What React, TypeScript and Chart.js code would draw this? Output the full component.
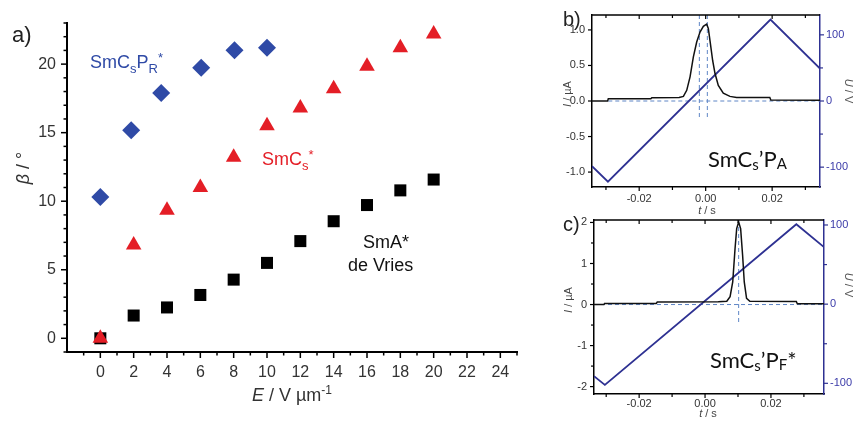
import { useEffect, useRef } from 'react';
import { Chart, registerables } from 'chart.js';
Chart.register(...registerables);

// ---------- Panel a data ----------
const eSmCsPR = [0, 1.85, 3.65, 6.05, 8.05, 10];
const betaSmCsPR = [10.31, 15.18, 17.9, 19.73, 21.02, 21.19];
const eSmCs = [0, 2, 4, 6, 8, 10, 12, 14, 16, 18, 20];
const betaSmCs = [0.0, 6.8, 9.34, 11.0, 13.2, 15.5, 16.8, 18.2, 19.85, 21.2, 22.2];
const eSmA = [0, 2, 4, 6, 8, 10, 12, 14, 16, 18, 20];
const betaSmA = [0.0, 1.66, 2.25, 3.16, 4.28, 5.5, 7.09, 8.54, 9.72, 10.79, 11.58];
const aXLabels = [0, 2, 4, 6, 8, 10, 12, 14, 16, 18, 20, 22, 24];
const aXMinor = [-1, 1, 3, 5, 7, 9, 11, 13, 15, 17, 19, 21, 23, 25];
const aYLabels = [0, 5, 10, 15, 20];
const aYMinor = [-1, 1, 2, 3, 4, 6, 7, 8, 9, 11, 12, 13, 14, 16, 17, 18, 19, 21, 22, 23];

// ---------- Panel b data ----------
const bTime = [-0.0342, -0.0295, -0.0293, -0.0165, -0.0162, -0.008, -0.0067, -0.0057, -0.0047, -0.0037, -0.0027, -0.0017, -0.0007, 0.0003, 0.0008, 0.0013, 0.0021, 0.0028, 0.0038, 0.0053, 0.0073, 0.0093, 0.0193, 0.0196, 0.0344];
const bCurrent = [0.0, 0.0, 0.03, 0.03, 0.045, 0.05, 0.065, 0.15, 0.34, 0.62, 0.83, 0.97, 1.05, 1.08, 1.02, 0.85, 0.57, 0.39, 0.22, 0.11, 0.065, 0.05, 0.05, 0.015, 0.01];
const bVoltTime = [-0.0342, -0.0294, 0.0195, 0.0344];
const bVolt = [-98.5, -122, 123, 49];
const bGuideTimes = [-0.0019, 0.0005];
const bGuideBottom = -0.25;
const bZeroStart = -0.0293;
const bXLabels = [-0.02, 0, 0.02];
const bXMinor = [-0.03, -0.01, 0.01, 0.03];
const bYLabels = [-1, -0.5, 0, 0.5, 1];
const bY2Labels = [-100, 0, 100];
const bY2Minor = [-50, 50];

// ---------- Panel c data ----------
const cTime = [-0.0337, -0.0307, -0.0305, -0.0148, -0.0145, 0.004, 0.0066, 0.0076, 0.0084, 0.0091, 0.0096, 0.0102, 0.0108, 0.0114, 0.0119, 0.0126, 0.0136, 0.0277, 0.028, 0.0361];
const cCurrent = [0.0, 0.0, 0.025, 0.025, 0.06, 0.07, 0.08, 0.19, 0.55, 1.36, 1.85, 2.01, 1.85, 1.2, 0.55, 0.15, 0.08, 0.075, 0.02, 0.02];
const cVoltTime = [-0.0337, -0.0304, 0.0277, 0.0361];
const cVolt = [-91, -102, 101, 72];
const cGuideTime = 0.0102;
const cGuideBottom = -0.46;
const cXLabels = [-0.02, 0, 0.02];
const cXMinor = [-0.03, -0.01, 0.01, 0.03];
const cYLabels = [-2, -1, 0, 1, 2];
const cYMinor = [-1.5, -0.5, 0.5, 1.5];
const cY2Labels = [-100, 0, 100];
const cY2Minor = [-50, 50];

const ARIAL = '"Liberation Sans", Arial, sans-serif';
const CAL = 'Lato, "Open Sans", sans-serif';
const BLUE_PTS = '#2f4aa6';
const RED = '#e41e26';
const VBLUE = '#2e3192';
const GUIDE = '#5f86c6';

type Part = { t: string; s: number; dy?: number; it?: boolean };
type TextItem = { x: number; y: number; color: string; parts: Part[]; rot?: number; align?: 'left' | 'center'; fam?: string };
type TickSet = { scale: string; side: 'left' | 'right' | 'top' | 'bottom'; major: number[]; minor: number[]; out: boolean; color: string; majorLen: number; minorLen: number; width: number };

function drawRich(ctx: CanvasRenderingContext2D, item: TextItem) {
  ctx.save();
  ctx.fillStyle = item.color;
  ctx.textBaseline = 'alphabetic';
  ctx.textAlign = 'left';
  const fam = item.fam ?? ARIAL;
  const fontOf = (p: Part) => `${p.it ? 'italic ' : ''}${p.s}px ${fam}`;
  let w = 0;
  for (const p of item.parts) { ctx.font = fontOf(p); w += ctx.measureText(p.t).width; }
  ctx.translate(item.x, item.y);
  if (item.rot) ctx.rotate(item.rot);
  let x = item.align === 'center' ? -w / 2 : 0;
  for (const p of item.parts) {
    ctx.font = fontOf(p);
    ctx.fillText(p.t, x, p.dy ?? 0);
    x += ctx.measureText(p.t).width;
  }
  ctx.restore();
}

function makePlugin(ticks: TickSet[], texts: TextItem[], topFrame: boolean) {
  return {
    id: 'decor',
    afterDraw(chart: any) {
      const { ctx, chartArea } = chart;
      ctx.save();
      if (topFrame) {
        ctx.strokeStyle = '#000';
        ctx.lineWidth = 1.5;
        ctx.beginPath();
        ctx.moveTo(chartArea.left, chartArea.top);
        ctx.lineTo(chartArea.right, chartArea.top);
        ctx.stroke();
      }
      for (const s of ticks) {
        const sc = chart.scales[s.scale];
        ctx.strokeStyle = s.color;
        ctx.lineWidth = s.width;
        const draw = (v: number, len: number) => {
          const p = sc.getPixelForValue(v);
          const d = s.out ? len : -len;
          ctx.beginPath();
          if (s.side === 'left') { ctx.moveTo(chartArea.left, p); ctx.lineTo(chartArea.left - d, p); }
          else if (s.side === 'right') { ctx.moveTo(chartArea.right, p); ctx.lineTo(chartArea.right + d, p); }
          else if (s.side === 'bottom') { ctx.moveTo(p, chartArea.bottom); ctx.lineTo(p, chartArea.bottom + d); }
          else { ctx.moveTo(p, chartArea.top); ctx.lineTo(p, chartArea.top - d); }
          ctx.stroke();
        };
        s.major.forEach((v) => draw(v, s.majorLen));
        s.minor.forEach((v) => draw(v, s.minorLen));
      }
      ctx.restore();
      for (const t of texts) drawRich(ctx, t);
    },
  };
}

const pts = (xs: number[], ys: number[]) => xs.map((x, i) => ({ x, y: ys[i] }));

function fixedTicks(values: number[]) {
  return (scale: any) => { scale.ticks = values.map((v) => ({ value: v })); };
}

function useChart(ref: React.RefObject<HTMLCanvasElement | null>, build: () => any) {
  useEffect(() => {
    if (!ref.current) return;
    const chart = new Chart(ref.current, build());
    return () => chart.destroy();
  }, []);
}

function PanelA() {
  const ref = useRef<HTMLCanvasElement>(null);
  useChart(ref, () => {
    const texts: TextItem[] = [
      { x: 12, y: 42, color: '#222', parts: [{ t: 'a)', s: 22 }] },
      { x: 90, y: 68, color: BLUE_PTS, parts: [{ t: 'SmC', s: 18 }, { t: 's', s: 13, dy: 5 }, { t: 'P', s: 18 }, { t: 'R', s: 13, dy: 5 }, { t: '*', s: 13, dy: -6 }] },
      { x: 262, y: 165, color: RED, parts: [{ t: 'SmC', s: 18 }, { t: 's', s: 13, dy: 5 }, { t: '*', s: 13, dy: -6 }] },
      { x: 363, y: 248, color: '#111', parts: [{ t: 'SmA*', s: 18 }] },
      { x: 348, y: 271, color: '#111', parts: [{ t: 'de Vries', s: 18 }] },
      { x: 29, y: 168, rot: -Math.PI / 2, align: 'center', color: '#333', parts: [{ t: 'β', s: 18, it: true }, { t: ' / °', s: 18 }] },
      { x: 292, y: 401, align: 'center', color: '#333', parts: [{ t: 'E', s: 18, it: true }, { t: ' / V µm', s: 18 }, { t: '-1', s: 12, dy: -7 }] },
    ];
    const ticks: TickSet[] = [
      { scale: 'x', side: 'bottom', major: aXLabels, minor: aXMinor, out: true, color: '#000', majorLen: 6, minorLen: 3.5, width: 1.5 },
      { scale: 'y', side: 'left', major: aYLabels, minor: aYMinor, out: true, color: '#000', majorLen: 6, minorLen: 3.5, width: 1.5 },
    ];
    return {
      type: 'scatter',
      data: {
        datasets: [
          { data: pts(eSmCsPR, betaSmCsPR), pointStyle: 'rectRot', radius: 9, backgroundColor: BLUE_PTS, borderColor: BLUE_PTS, borderWidth: 0 },
          { data: pts(eSmCs, betaSmCs), pointStyle: 'triangle', radius: 9, backgroundColor: RED, borderColor: RED, borderWidth: 0 },
          { data: pts(eSmA, betaSmA), pointStyle: 'rect', radius: 8.5, backgroundColor: '#000', borderColor: '#000', borderWidth: 0 },
        ],
      },
      options: {
        animation: false,
        responsive: false,
        devicePixelRatio: 1,
        layout: { padding: { left: 0, top: 23, right: 43, bottom: 0 } },
        plugins: { legend: { display: false }, tooltip: { enabled: false } },
        scales: {
          x: {
            type: 'linear', min: -2, max: 25,
            afterBuildTicks: fixedTicks(aXLabels),
            afterFit: (s: any) => { s.height = 69; },
            grid: { display: false, drawTicks: false },
            border: { display: true, color: '#000', width: 2 },
            ticks: { padding: 11, color: '#333', font: { family: ARIAL, size: 16 }, maxRotation: 0, autoSkip: false },
          },
          y: {
            type: 'linear', min: -1, max: 23,
            afterBuildTicks: fixedTicks(aYLabels),
            afterFit: (s: any) => { s.width = 67; },
            grid: { display: false, drawTicks: false },
            border: { display: true, color: '#000', width: 2 },
            ticks: { padding: 11, color: '#333', font: { family: ARIAL, size: 16 }, autoSkip: false },
          },
        },
      },
      plugins: [makePlugin(ticks, texts, false)],
    };
  });
  return <canvas ref={ref} width={560} height={421} style={{ position: 'absolute', left: 0, top: 0, width: 560, height: 421 }} />;
}

function traceOptions(opts: {
  xMin: number; xMax: number; yMin: number; yMax: number; y2Min: number; y2Max: number;
  padTop: number; leftW: number; rightW: number; bottomH: number; xPad: number;
  xLabels: number[]; yLabels: number[]; y2Labels: number[]; yDigits: number;
}) {
  return {
    animation: false,
    responsive: false,
    devicePixelRatio: 1,
    layout: { padding: { left: 0, top: opts.padTop, right: 0, bottom: 0 } },
    plugins: { legend: { display: false }, tooltip: { enabled: false } },
    scales: {
      x: {
        type: 'linear', min: opts.xMin, max: opts.xMax,
        afterBuildTicks: fixedTicks(opts.xLabels),
        afterFit: (s: any) => { s.height = opts.bottomH; },
        grid: { display: false, drawTicks: false },
        border: { display: true, color: '#000', width: 1.5 },
        ticks: { padding: opts.xPad, color: '#333', font: { family: ARIAL, size: 11 }, maxRotation: 0, autoSkip: false, callback: (v: any) => Number(v).toFixed(2) },
      },
      y: {
        type: 'linear', position: 'left', min: opts.yMin, max: opts.yMax,
        afterBuildTicks: fixedTicks(opts.yLabels),
        afterFit: (s: any) => { s.width = opts.leftW; },
        grid: { display: false, drawTicks: false },
        border: { display: true, color: '#000', width: 1.5 },
        ticks: { padding: 7, color: '#333', font: { family: ARIAL, size: 11 }, autoSkip: false, callback: (v: any) => Number(v).toFixed(opts.yDigits) },
      },
      y2: {
        type: 'linear', position: 'right', min: opts.y2Min, max: opts.y2Max,
        afterBuildTicks: fixedTicks(opts.y2Labels),
        afterFit: (s: any) => { s.width = opts.rightW; },
        grid: { display: false, drawTicks: false },
        border: { display: true, color: VBLUE, width: 1.5 },
        ticks: { padding: 6, color: '#3a3aa8', font: { family: ARIAL, size: 11 }, autoSkip: false, callback: (v: any) => String(v) },
      },
    },
  };
}

function PanelB() {
  const ref = useRef<HTMLCanvasElement>(null);
  useChart(ref, () => {
    const xMin = -0.0342, xMax = 0.0344, yMin = -1.21, yMax = 1.21;
    const texts: TextItem[] = [
      { x: 3, y: 26, color: '#222', parts: [{ t: 'b)', s: 20 }] },
      { x: 148, y: 167, color: '#111', fam: CAL, parts: [{ t: 'SmC', s: 22 }, { t: 's', s: 15, dy: 3 }, { t: '’P', s: 22 }, { t: 'A', s: 15, dy: 2 }] },
      { x: 11, y: 94, rot: -Math.PI / 2, align: 'center', color: '#444', parts: [{ t: 'I', s: 11, it: true }, { t: ' / µA', s: 11 }] },
      { x: 285, y: 91, rot: Math.PI / 2, align: 'center', color: '#555', parts: [{ t: 'U', s: 11, it: true }, { t: ' / V', s: 11 }] },
      { x: 147, y: 214, align: 'center', color: '#444', parts: [{ t: 't', s: 11, it: true }, { t: ' / s', s: 11 }] },
    ];
    const ticks: TickSet[] = [
      { scale: 'x', side: 'bottom', major: bXLabels, minor: bXMinor, out: true, color: '#000', majorLen: 4, minorLen: 3, width: 1.2 },
      { scale: 'x', side: 'top', major: bXLabels, minor: bXMinor, out: false, color: '#000', majorLen: 4, minorLen: 3, width: 1.2 },
      { scale: 'y', side: 'left', major: bYLabels, minor: [], out: true, color: '#000', majorLen: 4, minorLen: 3, width: 1.2 },
      { scale: 'y2', side: 'right', major: bY2Labels, minor: bY2Minor, out: true, color: VBLUE, majorLen: 4, minorLen: 3, width: 1.2 },
    ];
    const guide = (t: number) => ({ data: [{ x: t, y: yMax }, { x: t, y: bGuideBottom }], showLine: true, borderColor: GUIDE, borderWidth: 1, borderDash: [4, 3], pointRadius: 0, yAxisID: 'y' });
    return {
      type: 'scatter',
      data: {
        datasets: [
          { data: pts(bTime, bCurrent), showLine: true, borderColor: '#111', borderWidth: 1.5, pointRadius: 0, yAxisID: 'y' },
          { data: pts(bVoltTime, bVolt), showLine: true, borderColor: VBLUE, borderWidth: 1.8, pointRadius: 0, yAxisID: 'y2' },
          { data: [{ x: bZeroStart, y: 0 }, { x: xMax, y: 0 }], showLine: true, borderColor: GUIDE, borderWidth: 1, borderDash: [4, 3], pointRadius: 0, yAxisID: 'y' },
          ...bGuideTimes.map(guide),
        ],
      },
      options: traceOptions({ xMin, xMax, yMin, yMax, y2Min: -130, y2Max: 130, padTop: 15, leftW: 32, rightW: 33, bottomH: 218 - 187, xPad: 5, xLabels: bXLabels, yLabels: bYLabels, y2Labels: bY2Labels, yDigits: 1 }),
      plugins: [makePlugin(ticks, texts, true)],
    };
  });
  return <canvas ref={ref} width={293} height={218} style={{ position: 'absolute', left: 560, top: 0, width: 293, height: 218 }} />;
}

function PanelC() {
  const ref = useRef<HTMLCanvasElement>(null);
  useChart(ref, () => {
    const xMin = -0.0337, xMax = 0.0361, yMin = -2.18, yMax = 2.06;
    const texts: TextItem[] = [
      { x: 3, y: 26, color: '#222', parts: [{ t: 'c)', s: 20 }] },
      { x: 150, y: 163, color: '#111', fam: CAL, parts: [{ t: 'SmC', s: 22 }, { t: 's', s: 15, dy: 3 }, { t: '’P', s: 22 }, { t: 'F', s: 15, dy: 2 }, { t: '*', s: 22 }] },
      { x: 12, y: 95, rot: -Math.PI / 2, align: 'center', color: '#444', parts: [{ t: 'I', s: 11, it: true }, { t: ' / µA', s: 11 }] },
      { x: 285, y: 80, rot: Math.PI / 2, align: 'center', color: '#555', parts: [{ t: 'U', s: 11, it: true }, { t: ' / V', s: 11 }] },
      { x: 148, y: 212, align: 'center', color: '#444', parts: [{ t: 't', s: 11, it: true }, { t: ' / s', s: 11 }] },
    ];
    const ticks: TickSet[] = [
      { scale: 'x', side: 'bottom', major: cXLabels, minor: cXMinor, out: true, color: '#000', majorLen: 4, minorLen: 3, width: 1.2 },
      { scale: 'x', side: 'top', major: cXLabels, minor: cXMinor, out: false, color: '#000', majorLen: 4, minorLen: 3, width: 1.2 },
      { scale: 'y', side: 'left', major: cYLabels, minor: cYMinor, out: true, color: '#000', majorLen: 4, minorLen: 3, width: 1.2 },
      { scale: 'y2', side: 'right', major: cY2Labels, minor: cY2Minor, out: true, color: VBLUE, majorLen: 4, minorLen: 3, width: 1.2 },
    ];
    return {
      type: 'scatter',
      data: {
        datasets: [
          { data: pts(cTime, cCurrent), showLine: true, borderColor: '#111', borderWidth: 1.5, pointRadius: 0, yAxisID: 'y' },
          { data: pts(cVoltTime, cVolt), showLine: true, borderColor: VBLUE, borderWidth: 1.8, pointRadius: 0, yAxisID: 'y2' },
          { data: [{ x: xMin, y: 0 }, { x: xMax, y: 0 }], showLine: true, borderColor: GUIDE, borderWidth: 1, borderDash: [4, 3], pointRadius: 0, yAxisID: 'y' },
          { data: [{ x: cGuideTime, y: yMax }, { x: cGuideTime, y: cGuideBottom }], showLine: true, borderColor: GUIDE, borderWidth: 1, borderDash: [4, 3], pointRadius: 0, yAxisID: 'y' },
        ],
      },
      options: traceOptions({ xMin, xMax, yMin, yMax, y2Min: -113.5, y2Max: 106.3, padTop: 15, leftW: 34, rightW: 29, bottomH: 216 - 189, xPad: 3, xLabels: cXLabels, yLabels: cYLabels, y2Labels: cY2Labels, yDigits: 0 }),
      plugins: [makePlugin(ticks, texts, true)],
    };
  });
  return <canvas ref={ref} width={293} height={216} style={{ position: 'absolute', left: 560, top: 205, width: 293, height: 216 }} />;
}

export default function App() {
  return (
    <div style={{ position: 'fixed', left: 0, top: 0, width: 853, height: 421, background: '#fff', overflow: 'hidden' }}>
      <PanelA />
      <PanelB />
      <PanelC />
    </div>
  );
}
